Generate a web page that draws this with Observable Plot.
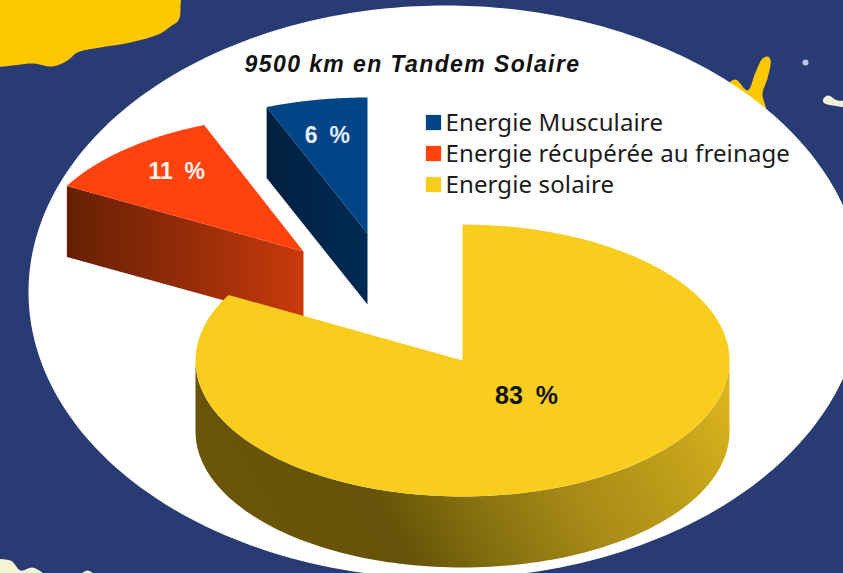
<!DOCTYPE html>
<html><head><meta charset="utf-8">
<script src="https://cdn.jsdelivr.net/npm/d3@7"></script>
<script src="https://cdn.jsdelivr.net/npm/@observablehq/plot@0.6"></script>
<style>html,body{margin:0;padding:0;background:#283c73}svg{display:block}
.sp-title text{letter-spacing:1.4px}
.sp-label text{word-spacing:0.24em}
.sp-legend text{letter-spacing:0.12px}
</style>
</head><body><div id="chart"></div>
<script>
// ---- data ----
const chartTitle = "9500 km en Tandem Solaire";
const categories = ["Energie Musculaire", "Energie récupérée au freinage", "Energie solaire"];
const shares = [6, 11, 83];
const shareLabels = ["6 %", "11 %", "83 %"];

// ---- styles / layout ----
const W = 843, H = 573;
const faceColors = ["#004586", "#ff420e", "#f8cd1e"];
const labelColors = ["#e8eef6", "#fff4ee", "#111111"];
const ry = 136;
const layout = {
  "Energie solaire": {cx: 462, cy: 360, rx: 267, depth: 71, wall: "yellowWall", labelDx: 64, labelDy: 35, size: 25},
  "Energie récupérée au freinage": {cx: 303, cy: 251, rx: 270, depth: 71, lx: 0.71, ly: 0.78, wall: "redWall", size: 23},
  "Energie Musculaire": {cx: 367, cy: 233, rx: 274, depth: 71, lx: 0.78, ly: 0.73, wall: "blueWall", size: 23}
};

// map shapes behind the white disc
const mapYellowA = [[-20,-20],[176,-20],[180,7],[178,20],[170,26],[160,33],[130,42],[100,47],[77,52],[67,60],[52,66],[33,63],[-20,62]];
const mapYellowB = [[727,86],[735,79],[747,90],[755,72],[762,58],[767,56],[770,59],[767,78],[762,93],[765,112],[745,118]];
const mapWhiteA = [[823,98],[828,95],[837,100],[860,100],[860,106],[832,105],[823,102]];
const mapCreamA = [[-20,590],[-20,563],[10,560],[20,570],[32,567],[43,573],[60,590]];
const mapCreamB = [[70,590],[87,570],[105,590]];
const mapDot = [[805,62]];

// ---- pie geometry, all from shares (clockwise from 12 o'clock) ----
const order = [2, 1, 0];
const total = d3.sum(shares);
let running = 0;
const slices = order.map(i => {
  const a0 = running / total * 2 * Math.PI; running += shares[i];
  const a1 = running / total * 2 * Math.PI;
  return {i, name: categories[i], a0, a1, ...layout[categories[i]]};
});
const pt = (s, a, dz = 0) => [s.cx + s.rx * Math.sin(a), s.cy - ry * Math.cos(a) + dz];
const arc = (s, a0, a1, dz = 0) => d3.range(0, 121).map(k => pt(s, a0 + (a1 - a0) * k / 120, dz));
const face = s => [[s.cx, s.cy], ...arc(s, s.a0, s.a1)];
const poly = (pts, fill, curve = "linear") => Plot.line(pts, {x: d => d[0], y: d => d[1], fill, stroke: "none", curve});
const blob = (pts, fill) => poly(pts, fill, "catmull-rom-closed");

const [yellow, red, blue] = slices;
const yellowWall = [...arc(yellow, Math.PI * 0.5, Math.PI * 1.5), ...arc(yellow, Math.PI * 1.5, Math.PI * 0.5, yellow.depth)];
const radialWall = s => [pt(s, s.a0), [s.cx, s.cy], [s.cx, s.cy + s.depth], pt(s, s.a0, s.depth)];
const disc = d3.range(0, 361).map(k => [445 + 417 * Math.cos(k * Math.PI / 180), 291.5 + 286.5 * Math.sin(k * Math.PI / 180)]);

const labels = slices.map(s => {
  const mid = (s.a0 + s.a1) / 2;
  return {
    x: s.labelDx !== undefined ? s.cx + s.labelDx : s.cx + s.rx * Math.sin(mid) * s.lx,
    y: s.labelDy !== undefined ? s.cy + s.labelDy : s.cy - ry * Math.cos(mid) * s.ly,
    text: shareLabels[s.i], fill: labelColors[s.i], size: s.size
  };
});
const legend = categories.map((c, i) => ({name: c, color: faceColors[i], row: i}));
const legendY = d => 122 + d.row * 31;

const textMark = (l) => Plot.text([l], {x: "x", y: "y", text: "text", fill: l.fill, fontSize: l.size, fontWeight: "bold", fontFamily: "Liberation Sans", className: "sp-label"});

const chart = Plot.plot({
  width: W, height: H, margin: 0,
  x: {domain: [0, W], range: [0, W], axis: null},
  y: {domain: [0, H], range: [0, H], axis: null},
  style: {background: "#283c73", overflow: "hidden"},
  marks: [
    blob(mapYellowA, "#fdc800"),
    blob(mapYellowB, "#fdc800"),
    blob(mapWhiteA, "#f2f0d8"),
    blob(mapCreamA, "#f4f4d4"),
    blob(mapCreamB, "#f4f4d4"),
    Plot.dot(mapDot, {x: d => d[0], y: d => d[1], r: 3, fill: "#b9c6e4"}),
    poly(disc, "white"),
    // blue
    poly(radialWall(blue), "url(#blueWall)"),
    poly(face(blue), faceColors[0]),
    // red
    poly(radialWall(red), "url(#redWall)"),
    poly(face(red), faceColors[1]),
    // yellow
    poly(yellowWall, "url(#yellowWall)"),
    poly(face(yellow), faceColors[2]),
    // slice labels
    ...labels.map(textMark),
    // title
    Plot.text([chartTitle], {x: () => 412, y: () => 64, text: d => d, fontSize: 23, fontWeight: "bold", fontStyle: "italic", fontFamily: "Liberation Sans", fill: "#111", className: "sp-title"}),
    // legend
    Plot.dot(legend, {x: () => 433, y: legendY, symbol: "square", r: 8.6, fill: "color"}),
    Plot.text(legend, {x: () => 445, y: d => legendY(d) + 1, text: "name", textAnchor: "start", fontSize: 24, fontFamily: "Noto Sans", fill: "#1c1c1c", className: "sp-legend"})
  ]
});

// gradients used as wall fills
const defs = d3.select(chart).append("defs");
const grad = (id, x1, y1, x2, y2, stops) => {
  const g = defs.append("linearGradient").attr("id", id).attr("gradientUnits", "userSpaceOnUse")
    .attr("x1", x1).attr("x2", x2).attr("y1", y1).attr("y2", y2);
  stops.forEach(([o, c]) => g.append("stop").attr("offset", o).attr("stop-color", c));
};
grad("yellowWall", 195, 500, 730, 190, [[0, "#6b5508"], [0.25, "#665208"], [0.38, "#85700f"], [0.54, "#a98b17"], [0.72, "#c4a21a"], [0.86, "#e0b81f"]]);
grad("redWall", 67, 0, 303, 0, [[0, "#652004"], [0.5, "#952c08"], [1, "#c83a0c"]]);
grad("blueWall", 266, 0, 368, 0, [[0, "#00203f"], [1, "#002a55"]]);

document.getElementById("chart").append(chart);
</script>
</body></html>
